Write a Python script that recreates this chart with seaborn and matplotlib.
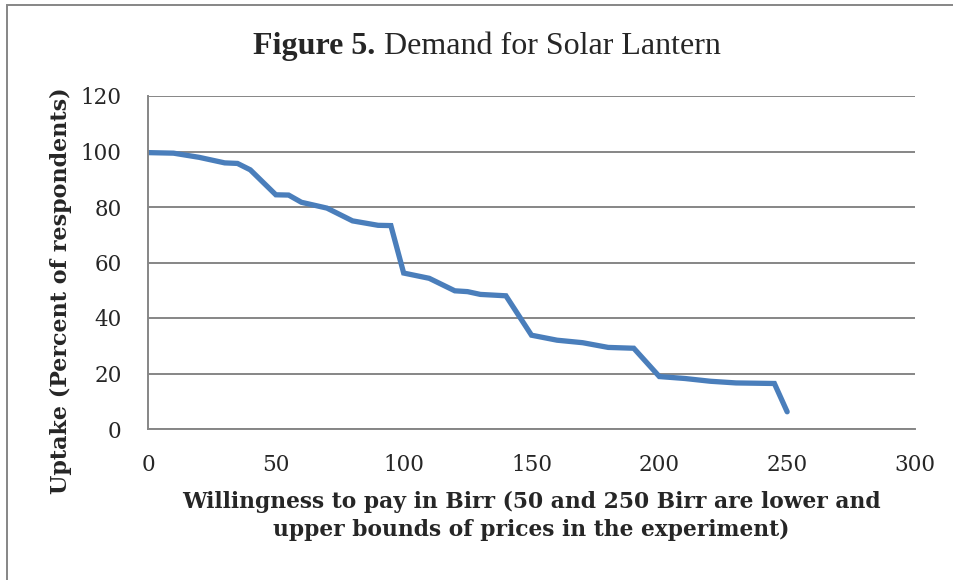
import numpy as np
import pandas as pd
import seaborn as sns
import matplotlib.pyplot as plt
from matplotlib.patches import Rectangle

# Data
price = [0, 10, 20, 30, 35, 40, 50, 55, 60, 70, 80, 90, 95, 100, 110, 120, 125, 130, 140,
         150, 160, 170, 180, 190, 200, 210, 220, 230, 245, 250]
uptake = [99.6, 99.4, 97.9, 95.9, 95.7, 93.4, 84.4, 84.3, 81.7, 79.6, 75.0, 73.4, 73.3, 56.2, 54.3,
          49.8, 49.5, 48.5, 48.0, 33.8, 32.0, 31.1, 29.4, 29.1, 18.9, 18.2, 17.2, 16.6, 16.4, 6.2]
x_ticks = [0, 50, 100, 150, 200, 250, 300]
y_ticks = [0, 20, 40, 60, 80, 100, 120]

df = pd.DataFrame({'price': price, 'uptake': uptake})

sns.set_style('white')
plt.rcParams['font.family'] = ['DejaVu Serif']

fig = plt.figure(figsize=(9.54, 5.80), dpi=100)
ax = fig.add_axes([148 / 954, 1 - 429 / 580, (915 - 148) / 954, (429 - 96) / 580])

sns.lineplot(data=df, x='price', y='uptake', ax=ax, color='#4A7EBB', linewidth=3.8,
             solid_joinstyle='miter', solid_capstyle='round')

ax.set_xlim(0, 300)
ax.set_ylim(0, 120)
ax.set_xticks(x_ticks)
ax.set_yticks(y_ticks)
ax.tick_params(axis='x', length=0, labelsize=15.5, pad=18)
ax.tick_params(axis='y', length=0, labelsize=15.5, pad=19)
ax.grid(axis='y', color='#868686', linewidth=1.4)
ax.set_axisbelow(True)
for side in ['top', 'right']:
    ax.spines[side].set_visible(False)
for side in ['left', 'bottom']:
    ax.spines[side].set_color('#868686')
    ax.spines[side].set_linewidth(1.4)
ax.set_xlabel('')
ax.set_ylabel('')

# axis titles
fig.text(531 / 954, 1 - 516 / 580,
         'Willingness to pay in Birr (50 and 250 Birr are lower and\nupper bounds of prices in the experiment)',
         ha='center', va='center', fontsize=15.7, fontweight='bold', linespacing=1.3)
fig.text(61 / 954, 1 - 291 / 580, 'Uptake (Percent of respondents)', rotation=90,
         ha='center', va='center', fontsize=16, fontweight='bold')

# title: bold part + regular part, on a shared baseline
t1 = fig.text(0, 1 - 54 / 580, 'Figure 5.', ha='left', va='baseline',
              fontsize=23, fontweight='bold', family='Liberation Serif')
t2 = fig.text(0, 1 - 54 / 580, ' Demand for Solar Lantern', ha='left', va='baseline',
              fontsize=23, family='Liberation Serif')
fig.canvas.draw()
r = fig.canvas.get_renderer()
w1 = t1.get_window_extent(r).width
w2 = t2.get_window_extent(r).width
start = 487 - (w1 + w2) / 2
t1.set_x(start / 954)
t2.set_x((start + w1) / 954)

# chart area border
fig.patches.append(Rectangle((7 / 954, -0.01), 1.0, 1 - 5 / 580 + 0.01, transform=fig.transFigure,
                             fill=False, edgecolor='#868686', linewidth=1.4))

fig.savefig('out.png', dpi=100)
